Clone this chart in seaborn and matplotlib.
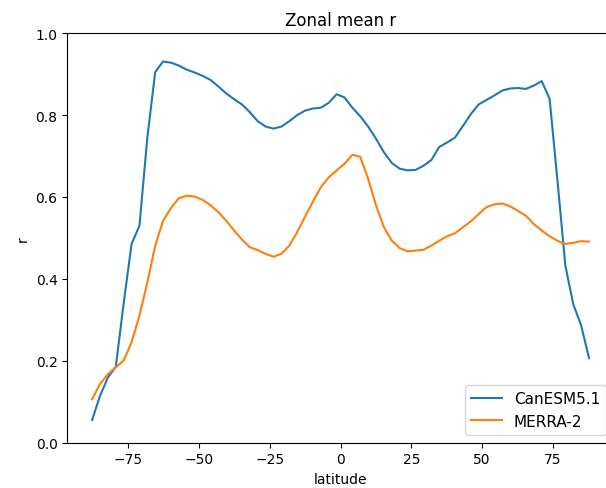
import numpy as np
import pandas as pd
import matplotlib
matplotlib.use("Agg")
import matplotlib.pyplot as plt
import seaborn as sns

# latitude grid (T63-like, 64 points)
lat = [-87.86, -85.07, -82.28, -79.49, -76.70, -73.91, -71.12, -68.33,
       -65.55, -62.76, -59.97, -57.18, -54.39, -51.60, -48.81, -46.02,
       -43.23, -40.44, -37.65, -34.86, -32.08, -29.29, -26.50, -23.71,
       -20.92, -18.13, -15.34, -12.55, -9.76, -6.97, -4.18, -1.39,
       1.39, 4.18, 6.97, 9.76, 12.55, 15.34, 18.13, 20.92,
       23.71, 26.50, 29.29, 32.08, 34.86, 37.65, 40.44, 43.23,
       46.02, 48.81, 51.60, 54.39, 57.18, 59.97, 62.76, 65.55,
       68.33, 71.12, 73.91, 76.70, 79.49, 82.28, 85.07, 87.86]

canesm = [0.055, 0.114, 0.159, 0.185, 0.340, 0.485, 0.530, 0.745,
          0.905, 0.931, 0.928, 0.921, 0.911, 0.904, 0.896, 0.886,
          0.870, 0.853, 0.839, 0.826, 0.807, 0.785, 0.772, 0.767,
          0.772, 0.785, 0.800, 0.811, 0.816, 0.818, 0.830, 0.851,
          0.843, 0.818, 0.797, 0.772, 0.742, 0.709, 0.683, 0.669,
          0.665, 0.666, 0.676, 0.690, 0.722, 0.733, 0.745, 0.773,
          0.802, 0.826, 0.837, 0.848, 0.860, 0.865, 0.866, 0.864,
          0.872, 0.883, 0.840, 0.640, 0.432, 0.338, 0.286, 0.206]

merra = [0.106, 0.143, 0.167, 0.184, 0.200, 0.245, 0.310, 0.391,
         0.481, 0.542, 0.573, 0.597, 0.603, 0.601, 0.593, 0.580,
         0.563, 0.542, 0.518, 0.496, 0.477, 0.470, 0.461, 0.454,
         0.461, 0.481, 0.514, 0.552, 0.589, 0.624, 0.648, 0.665,
         0.681, 0.703, 0.698, 0.644, 0.579, 0.526, 0.493, 0.475,
         0.467, 0.469, 0.471, 0.481, 0.493, 0.504, 0.511, 0.526,
         0.540, 0.558, 0.575, 0.582, 0.584, 0.577, 0.566, 0.554,
         0.534, 0.518, 0.504, 0.493, 0.485, 0.488, 0.492, 0.491]

df = pd.concat([
    pd.DataFrame({"latitude": lat, "r": canesm, "source": "CanESM5.1"}),
    pd.DataFrame({"latitude": lat, "r": merra, "source": "MERRA-2"}),
])

fig = plt.figure(figsize=(6.06, 4.89), dpi=100)
# axes run past the right edge, as in the cropped original
ax = fig.add_axes([0.111, 0.093, 0.902, 0.837])

sns.lineplot(data=df, x="latitude", y="r", hue="source",
             palette=["#1f77b4", "#ff7f0e"], linewidth=1.5, ax=ax)

ax.set_ylim(0, 1)
ax.set_title("Zonal mean r")
ax.set_xlabel("latitude")
ax.set_ylabel("r")
handles, labels = ax.get_legend_handles_labels()
ax.legend(handles, labels, loc="lower right", fontsize=11)

fig.savefig("out.png", dpi=100)
